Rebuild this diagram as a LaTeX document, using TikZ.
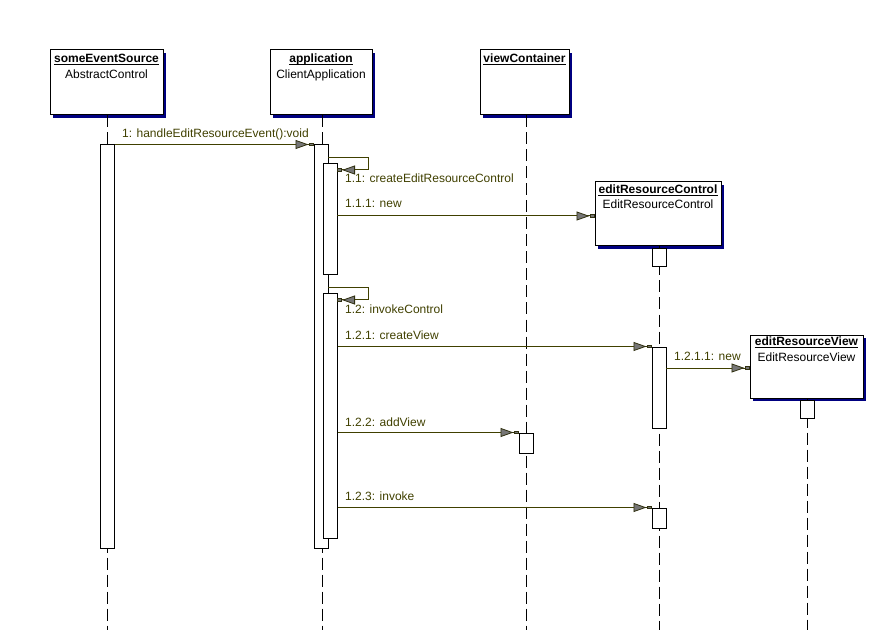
\documentclass[tikz,border=0pt]{standalone}
\usepackage{fontspec}
\setmainfont{Liberation Sans}
\usetikzlibrary{arrows.meta,shadows}
\definecolor{msgcol}{RGB}{64,64,0}
\definecolor{shadowcol}{RGB}{0,0,128}
\definecolor{arrgray}{RGB}{118,118,118}
\definecolor{arredge}{RGB}{48,48,16}
\begin{document}
\begin{tikzpicture}[x=1pt,y=-1pt,
  objbox/.style={draw=black,line width=1pt,fill=white,rectangle,inner sep=0pt,
    drop shadow={shadow xshift=3pt,shadow yshift=-3pt,fill=shadowcol,opacity=1}},
  actbar/.style={draw=black,line width=1pt,fill=white,rectangle,inner sep=0pt,minimum width=14pt},
  life/.style={draw=black,line width=1pt,dash pattern=on 12pt off 5pt},
  msg/.style={draw=msgcol,line width=1pt,-{Triangle[length=13pt,width=9pt,fill=arrgray,color=arredge,line width=0.8pt] Rectangle[length=5pt,width=3.5pt,fill=arrgray,color=arredge,line width=0.8pt]}},
  objname/.style={inner sep=0pt,anchor=base,font=\fontsize{12}{14}\selectfont\bfseries},
  clsname/.style={inner sep=0pt,anchor=base,font=\fontsize{12}{14}\selectfont},
  mlabel/.style={inner sep=0pt,anchor=base west,text=msgcol,font=\fontsize{12}{14}\selectfont}]
\useasboundingbox (0,0) rectangle (876,639);
% object boxes
\node (ses) [objbox,minimum width=113pt,minimum height=65pt] at (106.5,82.5) {};
\node (app) [objbox,minimum width=102pt,minimum height=65pt] at (321,82.5) {};
\node (vc)  [objbox,minimum width=89pt,minimum height=65pt] at (524.5,82.5) {};
\node (erc) [objbox,minimum width=126pt,minimum height=64pt] at (658,214) {};
\node (erv) [objbox,minimum width=113pt,minimum height=63pt] at (806.5,366.5) {};
% headers
\node (sesN) [objname] at (106.5,63) {someEventSource};
\node (sesC) [clsname] at (106.5,78.5) {AbstractControl};
\node (appN) [objname] at (321,63) {application};
\node (appC) [clsname] at (321,78.5) {ClientApplication};
\node (vcN)  [objname] at (524.5,63) {viewContainer};
\node (ercN) [objname] at (658,193.5) {editResourceControl};
\node (ercC) [clsname] at (658,209) {EditResourceControl};
\node (ervN) [objname] at (806.5,345) {editResourceView};
\node (ervC) [clsname] at (806.5,361) {EditResourceView};
\foreach \n in {sesN,appN,vcN,ercN,ervN}{
  \draw[line width=1pt] ([yshift=-2pt]\n.base west) -- ([yshift=-2pt]\n.base east);
}
% lifeline ends
\coordinate (sesE) at (107,630);
\coordinate (appE) at (322,630);
\coordinate (vcE)  at (526,630);
\coordinate (ercE) at (659,630);
\coordinate (ervE) at (807,630);
\draw[life] (107,115.5) -- (sesE);
\draw[life] (322,115.5) -- (appE);
\draw[life] (526,115.5) -- (vcE);
\draw[life] (659,246.5) -- (ercE);
\draw[life] (807,398.5) -- (ervE);
% activation bars
\node (sesB)  [actbar,minimum height=403pt] at (107,346.5) {};
\node (appB)  [actbar,minimum height=403pt] at (321,346.5) {};
\node (appB1) [actbar,minimum height=111pt] at (330,219.5) {};
\node (appB2) [actbar,minimum height=244pt] at (330,416) {};
\node (ercB0) [actbar,minimum height=18pt] at (659,257.5) {};
\node (ercB1) [actbar,minimum height=81pt] at (659,387.5) {};
\node (ercB2) [actbar,minimum height=20pt] at (659,518) {};
\node (vcB)   [actbar,minimum height=20pt] at (526,443) {};
\node (ervB0) [actbar,minimum height=18pt] at (807,409.5) {};
% messages
\draw[msg] (sesB.north east) -- (appB.north west);
\node (l1) [mlabel] at (122,138) {1: handleEditResourceEvent():void};
\coordinate (s11) at (328,158);
\coordinate (t11) at (337,170);
\draw[msg] (s11) -- ++(40,0) |- (t11);
\node (l11) [mlabel] at (345,183) {1.1: createEditResourceControl};
\coordinate (s111) at (337,216);
\draw[msg] (s111) -- (erc.west |- s111);
\node (l111) [mlabel] at (345,208) {1.1.1: new};
\coordinate (s12) at (328,288);
\coordinate (t12) at (337,300);
\draw[msg] (s12) -- ++(40,0) |- (t12);
\node (l12) [mlabel] at (345,313) {1.2: invokeControl};
\draw[msg] (appB2.east |- ercB1.north) -- (ercB1.north west);
\node (l121) [mlabel] at (345,339) {1.2.1: createView};
\coordinate (s1211) at (666,368);
\draw[msg] (s1211) -- (erv.west |- s1211);
\node (l1211) [mlabel] at (674,360) {1.2.1.1: new};
\draw[msg] (appB2.east |- vcB.north) -- (vcB.north west);
\node (l122) [mlabel] at (345,426) {1.2.2: addView};
\draw[msg] (appB2.east |- ercB2.north) -- (ercB2.north west);
\node (l123) [mlabel] at (345,500.5) {1.2.3: invoke};
\end{tikzpicture}
\end{document}
